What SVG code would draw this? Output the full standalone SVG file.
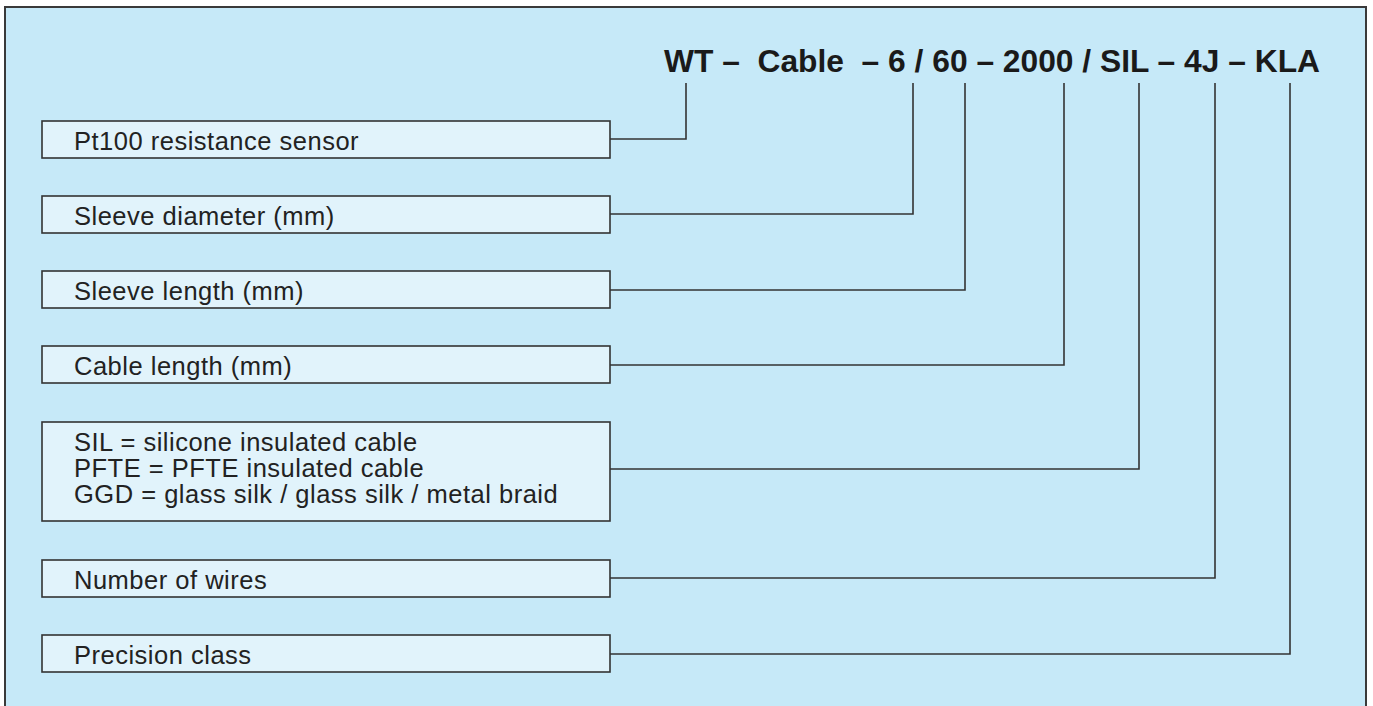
<svg xmlns="http://www.w3.org/2000/svg" width="1373" height="706" viewBox="0 0 1373 706">
<style>
.frame{fill:#c6e9f8;stroke:#3a3a3a;stroke-width:2}
.box{fill:#e1f3fb;stroke:#333;stroke-width:1.6}
.lbl{font-family:"Liberation Sans",Arial,sans-serif;font-size:25.5px;letter-spacing:0.5px;fill:#222}
.title{font-family:"Liberation Sans",Arial,sans-serif;font-size:32px;font-weight:bold;fill:#1a1a1a}
.conn{fill:none;stroke:#333;stroke-width:1.6}
</style>
<rect width="1373" height="706" fill="#ffffff"/>
<rect class="frame" x="5" y="7" width="1361" height="720"/>
<text class="title" x="664" y="72" textLength="656" lengthAdjust="spacingAndGlyphs" xml:space="preserve">WT –  Cable  – 6 / 60 – 2000 / SIL – 4J – KLA</text>
<g id="connectors">
<polyline class="conn" points="610,139 686,139 686,83"/>
<polyline class="conn" points="610,214 913,214 913,83"/>
<polyline class="conn" points="610,290 965,290 965,83"/>
<polyline class="conn" points="610,365 1064,365 1064,83"/>
<polyline class="conn" points="610,469 1139,469 1139,83"/>
<polyline class="conn" points="610,578 1215,578 1215,83"/>
<polyline class="conn" points="610,654 1290,654 1290,83"/>
</g>
<g id="node-sensor"><rect class="box" x="42" y="121" width="568" height="37"/><text class="lbl" x="74" y="150">Pt100 resistance sensor</text></g>
<g id="node-diameter"><rect class="box" x="42" y="196" width="568" height="37"/><text class="lbl" x="74" y="225">Sleeve diameter (mm)</text></g>
<g id="node-sleeve"><rect class="box" x="42" y="271" width="568" height="37"/><text class="lbl" x="74" y="300">Sleeve length (mm)</text></g>
<g id="node-cable"><rect class="box" x="42" y="346" width="568" height="37"/><text class="lbl" x="74" y="375">Cable length (mm)</text></g>
<g id="node-insulation"><rect class="box" x="42" y="422" width="568" height="99"/><text class="lbl" x="74" y="451">SIL = silicone insulated cable</text><text class="lbl" x="74" y="477">PFTE = PFTE insulated cable</text><text class="lbl" x="74" y="503">GGD = glass silk / glass silk / metal braid</text></g>
<g id="node-wires"><rect class="box" x="42" y="560" width="568" height="37"/><text class="lbl" x="74" y="589">Number of wires</text></g>
<g id="node-class"><rect class="box" x="42" y="635" width="568" height="37"/><text class="lbl" x="74" y="664">Precision class</text></g>
</svg>
